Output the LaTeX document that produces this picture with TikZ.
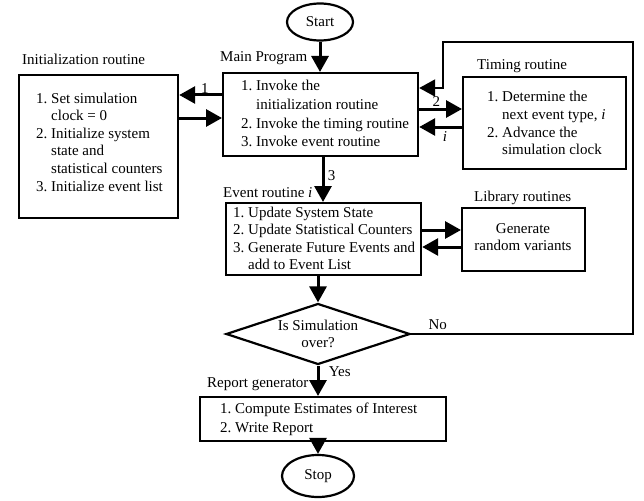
\documentclass[tikz,border=0pt]{standalone}
\usepackage{fontspec}
\setmainfont{Liberation Serif}
\usetikzlibrary{arrows.meta,shapes.geometric}
\newcommand{\stepitems}[1]{\begin{tabular}[t]{@{}r@{\ }l@{}}#1\end{tabular}}
\tikzset{
  box/.style={draw, line width=2.2pt, inner sep=0pt, anchor=north west},
  txt/.style={inner sep=0pt, anchor=base west},
  flow/.style={line width=3pt, -{Triangle[length=16pt,width=17pt]}},
  back/.style={line width=2pt, -{Triangle[length=16pt,width=17pt]}},
}
\begin{document}
\begin{tikzpicture}[x=1pt,y=-1pt,font=\fontsize{15}{17.6}\selectfont,line join=miter]
  \useasboundingbox (0,0) rectangle (644,500);
  % start / stop
  \node[draw,ellipse,line width=2.2pt,inner sep=0pt,minimum width=66,minimum height=37] (start) at (320,22) {Start};
  \node[draw,ellipse,line width=2.2pt,inner sep=0pt,minimum width=72,minimum height=42] (stop) at (318,476) {Stop};
  % boxes
  \node[box,minimum width=159,minimum height=143] (init) at (18,74) {};
  \node[box,minimum width=195,minimum height=83] (main) at (222,72) {};
  \node[box,minimum width=163,minimum height=92] (timing) at (462,76) {};
  \node[box,minimum width=195,minimum height=72] (event) at (225,202) {};
  \node[box,minimum width=123,minimum height=63] (lib) at (461,207) {};
  \node[box,minimum width=246,minimum height=44] (report) at (199,396) {};
  \node[draw,diamond,aspect=3,line width=2.2pt,inner sep=0pt,minimum width=184,minimum height=61,align=center] (dec) at (318,334) {Is Simulation\\over?};
  % titles
  \node[txt] (initTitle) at (22,65) {Initialization routine};
  \node[txt] (mainTitle) at (220,62) {Main Program};
  \node[txt] (timingTitle) at (477,70) {Timing routine};
  \node[txt] (eventTitle) at (223,197) {Event routine \textit{i}};
  \node[txt] (libTitle) at (474,201) {Library routines};
  \node[txt] (reportTitle) at (207,387) {Report generator};
  % box texts
  \node[txt] (initText) at (36,103) {\stepitems{1. & Set simulation\\ & clock = 0\\ 2. & Initialize system\\ & state and\\ & statistical counters\\ 3. & Initialize event list}};
  \node[txt,font=\fontsize{15}{18.5}\selectfont] (mainText) at (241,91) {\stepitems{1. & Invoke the\\ & initialization routine\\ 2. & Invoke the timing routine\\ 3. & Invoke event routine}};
  \node[txt] (timingText) at (487,102) {\stepitems{1. & Determine the\\ & next event type, \textit{i}\\ 2. & Advance the\\ & simulation clock}};
  \node[txt] (eventText) at (233,217) {\stepitems{1. & Update System State\\ 2. & Update Statistical Counters\\ 3. & Generate Future Events and\\ & add to Event List}};
  \node[txt,anchor=base] (libText) at (523,233) {\begin{tabular}[t]{@{}c@{}}Generate\\random variants\end{tabular}};
  \node[txt,font=\fontsize{15}{19}\selectfont] (reportText) at (220,413) {\stepitems{1. & Compute Estimates of Interest\\ 2. & Write Report}};
  % connectors
  \draw[flow] (start) -- (start |- main.north);
  \draw[flow] (main.west |- 0,95) -- node[above=-3pt,pos=0.4] {1} (init.east |- 0,95);
  \draw[flow] (init.east |- 0,118) -- (main.west |- 0,118);
  \draw[flow] (main.east |- 0,109) -- node[above=-2pt,pos=0.4] {2} (timing.west |- 0,109);
  \draw[flow] (timing.west |- 0,127) -- node[below,pos=0.4] {\textit{i}} (main.east |- 0,127);
  \draw[flow] (main.south -| 323,0) -- node[right,pos=0.4] {3} (event.north -| 323,0);
  \draw[flow] (event.east |- 0,230) -- (lib.west |- 0,230);
  \draw[flow] (lib.west |- 0,247) -- (event.east |- 0,247);
  \draw[flow] (dec |- event.south) -- (dec.north);
  \draw[flow] (dec.south) -- node[right=6pt,pos=0.2] {Yes} (dec |- report.north);
  \draw[flow] (dec |- report.south) -- (stop.north);
  % back to main program
  \coordinate (loopA) at (633,42);
  \coordinate (loopB) at (443,88);
  \draw[back] (dec.east) -- node[pos=0.12,above=0pt] {No} (dec.east -| loopA) -- (loopA) -| (loopB) -- (main.east |- loopB);
\end{tikzpicture}
\end{document}
